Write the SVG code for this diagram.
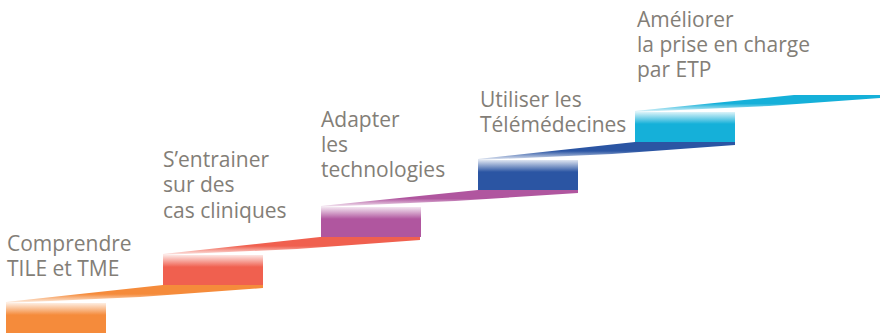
<svg xmlns="http://www.w3.org/2000/svg" width="880" height="333" viewBox="0 0 880 333">
<style>
.lbl{font-family:"Open Sans","Noto Sans","Liberation Sans",sans-serif;font-size:21px;fill:#837e77}
</style>
<defs>
<linearGradient id="bOr" x1="0" y1="0" x2="0" y2="1"><stop offset="0" stop-color="#f58b3b" stop-opacity="0.15"/><stop offset="0.4" stop-color="#f58b3b"/><stop offset="1" stop-color="#f58b3b"/></linearGradient>
<linearGradient id="bRd" x1="0" y1="0" x2="0" y2="1"><stop offset="0" stop-color="#f0604f" stop-opacity="0.15"/><stop offset="0.4" stop-color="#f0604f"/><stop offset="1" stop-color="#f0604f"/></linearGradient>
<linearGradient id="bPu" x1="0" y1="0" x2="0" y2="1"><stop offset="0" stop-color="#b0569f" stop-opacity="0.15"/><stop offset="0.4" stop-color="#b0569f"/><stop offset="1" stop-color="#b0569f"/></linearGradient>
<linearGradient id="bBl" x1="0" y1="0" x2="0" y2="1"><stop offset="0" stop-color="#2b55a3" stop-opacity="0.15"/><stop offset="0.4" stop-color="#2b55a3"/><stop offset="1" stop-color="#2b55a3"/></linearGradient>
<linearGradient id="bCy" x1="0" y1="0" x2="0" y2="1"><stop offset="0" stop-color="#15b0d9" stop-opacity="0.15"/><stop offset="0.4" stop-color="#15b0d9"/><stop offset="1" stop-color="#15b0d9"/></linearGradient>
<linearGradient id="rOr" x1="0" y1="0" x2="0" y2="1"><stop offset="0" stop-color="#f58b3b"/><stop offset="0.5" stop-color="#f58b3b"/><stop offset="1" stop-color="#f58b3b" stop-opacity="0.1"/></linearGradient>
<linearGradient id="rRd" x1="0" y1="0" x2="0" y2="1"><stop offset="0" stop-color="#f0604f"/><stop offset="0.5" stop-color="#f0604f"/><stop offset="1" stop-color="#f0604f" stop-opacity="0.1"/></linearGradient>
<linearGradient id="rPu" x1="0" y1="0" x2="0" y2="1"><stop offset="0" stop-color="#b0569f"/><stop offset="0.5" stop-color="#b0569f"/><stop offset="1" stop-color="#b0569f" stop-opacity="0.1"/></linearGradient>
<linearGradient id="rBl" x1="0" y1="0" x2="0" y2="1"><stop offset="0" stop-color="#2b55a3"/><stop offset="0.5" stop-color="#2b55a3"/><stop offset="1" stop-color="#2b55a3" stop-opacity="0.1"/></linearGradient>
<linearGradient id="rCy" x1="0" y1="0" x2="0" y2="1"><stop offset="0" stop-color="#15b0d9"/><stop offset="0.5" stop-color="#15b0d9"/><stop offset="1" stop-color="#15b0d9" stop-opacity="0.1"/></linearGradient>
</defs>
<g id="connectors">
<polygon points="6,302 163,285 263,285 263,288 140,297 6,303" fill="url(#rOr)"/>
<polygon points="163,254 320,237 420,237 420,240 297,249 163,255" fill="url(#rRd)"/>
<polygon points="321,206 478,190 578,190 578,193 455,201 321,207" fill="url(#rPu)"/>
<polygon points="478,159 635,142 735,142 735,145 612,154 478,160" fill="url(#rBl)"/>
<polygon points="635,111 794,95 880,95 880,98 769,106 635,112" fill="url(#rCy)"/>
</g>
<g id="step1">
<rect x="6" y="303" width="100" height="30" fill="url(#bOr)"/>
<text class="lbl" x="7" y="251">Comprendre</text>
<text class="lbl" x="7" y="276">TILE et TME</text>
</g>
<g id="step2">
<rect x="163" y="255" width="100" height="30" fill="url(#bRd)"/>
<text class="lbl" x="163" y="167">S’entrainer</text>
<text class="lbl" x="163" y="192">sur des</text>
<text class="lbl" x="163" y="218">cas cliniques</text>
</g>
<g id="step3">
<rect x="321" y="207" width="100" height="30" fill="url(#bPu)"/>
<text class="lbl" x="321" y="127">Adapter</text>
<text class="lbl" x="321" y="152">les</text>
<text class="lbl" x="321" y="177">technologies</text>
</g>
<g id="step4">
<rect x="478" y="160" width="100" height="30" fill="url(#bBl)"/>
<text class="lbl" x="480" y="107">Utiliser les</text>
<text class="lbl" x="480" y="132">Télémédecines</text>
</g>
<g id="step5">
<rect x="635" y="112" width="100" height="30" fill="url(#bCy)"/>
<text class="lbl" x="637" y="27">Améliorer</text>
<text class="lbl" x="637" y="52">la prise en charge</text>
<text class="lbl" x="637" y="77">par ETP</text>
</g>
</svg>
